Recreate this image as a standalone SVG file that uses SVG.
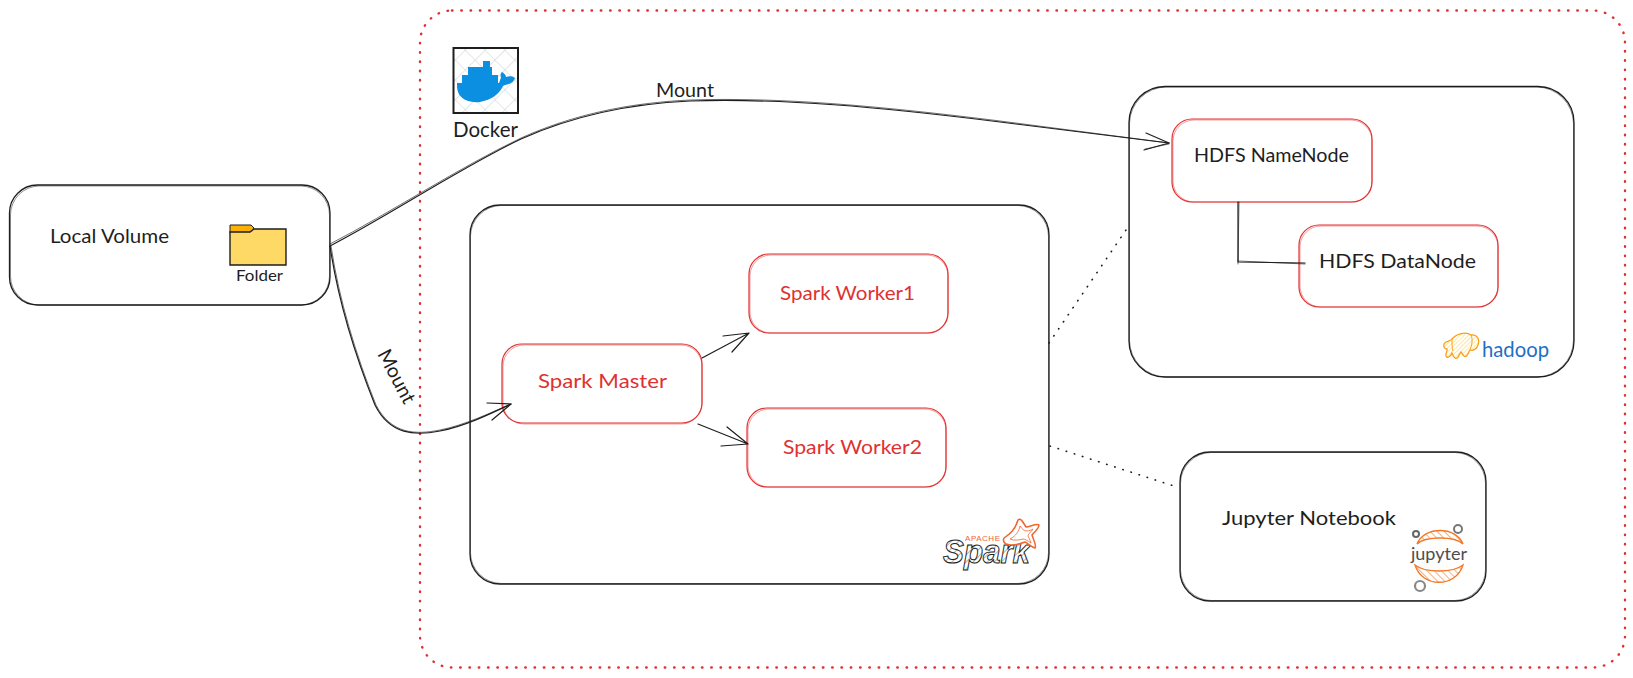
<svg xmlns="http://www.w3.org/2000/svg" width="1633" height="678" viewBox="0 0 1633 678">
<style>
.t{font-family:"Lato","Noto Sans","Liberation Sans",sans-serif;font-size:20px;fill:#1e1e1e}
.r{fill:#e03131}
.k{fill:#fff;stroke:#1e1e1e;stroke-width:1.3}
.k2{fill:none;stroke:#1e1e1e;stroke-width:.8;opacity:.6}
.n{fill:#fff;stroke:#e03131;stroke-width:1.2}
.n2{fill:none;stroke:#e03131;stroke-width:.8;opacity:.6}
.c{fill:none;stroke:#1e1e1e;stroke-width:1.2;stroke-linecap:round;stroke-linejoin:round}
.c2{fill:none;stroke:#1e1e1e;stroke-width:.8;opacity:.8;stroke-linecap:round;stroke-linejoin:round}
.d{fill:none;stroke:#1e1e1e;stroke-width:1.6;stroke-linecap:round;stroke-dasharray:.5 8}
</style>
<defs>
<pattern id="hatch" width="14" height="14" patternUnits="userSpaceOnUse" patternTransform="rotate(45)">
<path d="M0 0H14M0 0V14" stroke="#ced4da" stroke-width="1.200" fill="none"/>
</pattern>
<pattern id="hy" width="3" height="3" patternUnits="userSpaceOnUse" patternTransform="rotate(-45)">
<path d="M0 0H3" stroke="#ffd43b" stroke-width="1" fill="none"/>
</pattern>
<pattern id="ho" width="5" height="5" patternUnits="userSpaceOnUse" patternTransform="rotate(-45)">
<path d="M0 0V5" stroke="#f37726" stroke-width="1.200" fill="none"/>
</pattern>
<pattern id="hs" width="5" height="5" patternUnits="userSpaceOnUse" patternTransform="rotate(45)">
<path d="M0 0V5" stroke="#444" stroke-width=".8" fill="none"/>
</pattern>
</defs>
<rect width="1633" height="678" fill="#fff"/>

<g id="docker-boundary">
<rect x="420" y="10.500" width="1205" height="657" rx="32" fill="none" stroke="#e03131" stroke-width="2.400" stroke-linecap="round" stroke-dasharray=".5 8.800"/>
</g>

<g id="docker-icon">
<rect x="453.500" y="48" width="64.500" height="65" fill="url(#hatch)" stroke="#1e1e1e" stroke-width="2"/>
<path d="M462 75H468V67H483V61H490V67H492V75H498V84H462Z" fill="#0b8fe0"/>
<path d="M457 83H499C500 81 500 79 501 78C500 75 501 73 502 72C504 73 506 75 506 77C509 76 513 76 515 78C514 81 512 83 509 84C506 85 504 85 503 86C499 95 490 100 480 102C470 103 461 100 458 92C457 89 457 86 457 83Z" fill="#0b8fe0"/>
<text class="t" x="453" y="137" style="font-size:22px" textLength="65" lengthAdjust="spacingAndGlyphs">Docker</text>
</g>

<g id="local-volume">
<rect class="k" x="9.500" y="185" width="320.500" height="120" rx="28"/>
<rect class="k2" x="10.500" y="186" width="319" height="119" rx="29"/>
<text class="t" x="50" y="243" textLength="119" lengthAdjust="spacingAndGlyphs">Local Volume</text>
<path d="M230 233V225H251L254 228L251 233Z" fill="#fab005" stroke="#1e1e1e" stroke-width="1"/>
<path d="M230 232H250L254 229H286V265H230Z" fill="#ffd966" stroke="#1e1e1e" stroke-width="1.400"/>
<text class="t" x="236" y="281" style="font-size:15px" textLength="47" lengthAdjust="spacingAndGlyphs">Folder</text>
</g>

<g id="spark-cluster">
<rect class="k" x="470" y="205" width="579" height="379" rx="30"/>
<rect class="k2" x="470.500" y="205.500" width="578" height="378" rx="31"/>
<text x="965" y="541" font-family="Liberation Sans,sans-serif" font-size="8" fill="#f0652f" textLength="35">APACHE</text>
<text x="943" y="563" font-family="Liberation Sans,sans-serif" font-size="33" font-style="italic" font-weight="700" fill="url(#hs)" stroke="#222" stroke-width="1" textLength="87" lengthAdjust="spacingAndGlyphs">Spark</text>
<path d="M1004 538C1010 534 1015 530 1018 520C1021 517 1024 524 1026 527C1030 527 1036 523 1039 525C1039 529 1034 532 1032 535C1033 539 1037 545 1035 548C1031 547 1028 543 1025 542C1020 544 1012 546 1006 544C1003 542 1003 540 1004 538Z" fill="#fff" stroke="#f0652f" stroke-width="1.500"/>
<path d="M1010 539C1016 536 1019 531 1020 526C1022 529 1024 531 1027 531C1029 531 1031 530 1033 529C1031 532 1028 534 1028 536C1029 538 1030 540 1031 543C1028 541 1025 539 1023 539C1019 540 1014 541 1010 539Z" fill="none" stroke="#f0652f" stroke-width=".8"/>
</g>

<g id="spark-master">
<rect class="n" x="502" y="344" width="200" height="79" rx="20"/>
<rect class="n2" x="503" y="345" width="199" height="79" rx="21"/>
<text class="t r" x="538" y="388" textLength="129" lengthAdjust="spacingAndGlyphs">Spark Master</text>
</g>
<g id="spark-worker1">
<rect class="n" x="749" y="254" width="199" height="79" rx="20"/>
<rect class="n2" x="750" y="255" width="198" height="78" rx="21"/>
<text class="t r" x="780" y="300" textLength="135" lengthAdjust="spacingAndGlyphs">Spark Worker1</text>
</g>
<g id="spark-worker2">
<rect class="n" x="747" y="408" width="199" height="79" rx="20"/>
<rect class="n2" x="748" y="409" width="198" height="78" rx="21"/>
<text class="t r" x="783" y="454" textLength="139" lengthAdjust="spacingAndGlyphs">Spark Worker2</text>
</g>

<g id="hadoop-cluster">
<rect class="k" x="1129" y="86.500" width="445" height="290.500" rx="36"/>
<rect class="k2" x="1129.500" y="87" width="444" height="290" rx="37"/>
<path d="M1444 344C1446 340 1450 342 1452 339C1456 334 1466 331 1471 335C1477 334 1480 339 1478 345C1477 349 1473 351 1470 350C1468 353 1467 358 1464 356C1462 354 1462 353 1461 352C1459 354 1458 360 1455 358C1453 357 1453 355 1452 353C1451 356 1447 359 1446 356C1445 353 1448 351 1447 349C1445 349 1443 347 1444 344Z" fill="url(#hy)" stroke="#f9a01b" stroke-width="1.300"/>
<path d="M1471 335C1473 339 1472 345 1470 350M1452 339C1452 343 1452 348 1453 351" fill="none" stroke="#f9a01b" stroke-width="1"/>
<text x="1482" y="357" font-family="Lato,Noto Sans,sans-serif" font-size="21" fill="#1f6fc4" textLength="67" lengthAdjust="spacingAndGlyphs">hadoop</text>
</g>
<g id="hdfs-namenode">
<rect class="n" x="1172" y="119" width="200" height="83" rx="20"/>
<rect class="n2" x="1173" y="120" width="199" height="82" rx="21"/>
<text class="t" x="1194" y="162" textLength="155" lengthAdjust="spacingAndGlyphs">HDFS NameNode</text>
</g>
<g id="hdfs-datanode">
<rect class="n" x="1299" y="225" width="199" height="82" rx="20"/>
<rect class="n2" x="1300" y="226" width="198" height="81" rx="21"/>
<text class="t" x="1319" y="268" textLength="157" lengthAdjust="spacingAndGlyphs">HDFS DataNode</text>
</g>

<g id="jupyter-notebook">
<rect class="k" x="1180" y="452" width="306" height="149" rx="30"/>
<rect class="k2" x="1180.500" y="452.500" width="305" height="148" rx="31"/>
<text class="t" x="1222" y="525" textLength="174" lengthAdjust="spacingAndGlyphs">Jupyter Notebook</text>
<path d="M1417 544C1424 526 1456 526 1463 544C1455 536 1425 536 1417 544Z" fill="url(#ho)" stroke="#f37726" stroke-width="1.300"/>
<path d="M1415 565C1425 573 1453 573 1463 565C1456 588 1422 588 1415 565Z" fill="url(#ho)" stroke="#f37726" stroke-width="1.300"/>
<circle cx="1416" cy="534" r="3" fill="none" stroke="#666" stroke-width="2"/>
<circle cx="1458" cy="529" r="4" fill="none" stroke="#777" stroke-width="2"/>
<circle cx="1420" cy="586" r="5" fill="none" stroke="#888" stroke-width="2.200"/>
<text class="t" x="1411" y="560" style="font-size:18px;fill:#4e4e4e" textLength="56" lengthAdjust="spacingAndGlyphs">jupyter</text>
</g>

<g id="connectors">
<path class="c" d="M330 246C390 215 460 168 521 139C570 117 625 104 690 101C780 98 880 107 1000 122L1169 143"/>
<path class="c2" d="M330 244C390 213 460 167 521 138C570 116 625 103 690 100C780 97 880 106 1000 121L1169 143"/>
<path class="c" d="M1146 133L1169 143L1144 150"/>
<path class="c2" d="M1145 149L1169 144"/>
<path class="c" d="M330 246C338 300 355 355 375 405C390 435 415 436 440 431C465 426 490 414 511 404"/>
<path class="c2" d="M331 246C339 300 356 355 376 405C391 434 415 435 440 430C465 425 490 413 511 404"/>
<path class="c" d="M487 403L511 404L492 420"/>
<path class="c" d="M702 358L749 333M723 336L749 333L732 352"/>
<path class="c" d="M698 424L748 444M727 427L748 444L721 446"/>
<path class="c" d="M1238 202L1238 262L1305 263"/>
<path class="c2" d="M1239 202L1238 264M1238 261L1305 264"/>
<path class="d" d="M1049 343L1126 230"/>
<path class="d" d="M1050 446L1174 486"/>
<text class="t" x="656" y="97" textLength="58" lengthAdjust="spacingAndGlyphs">Mount</text>
<text class="t" transform="translate(377 354) rotate(62)" textLength="58" lengthAdjust="spacingAndGlyphs">Mount</text>
</g>
</svg>
